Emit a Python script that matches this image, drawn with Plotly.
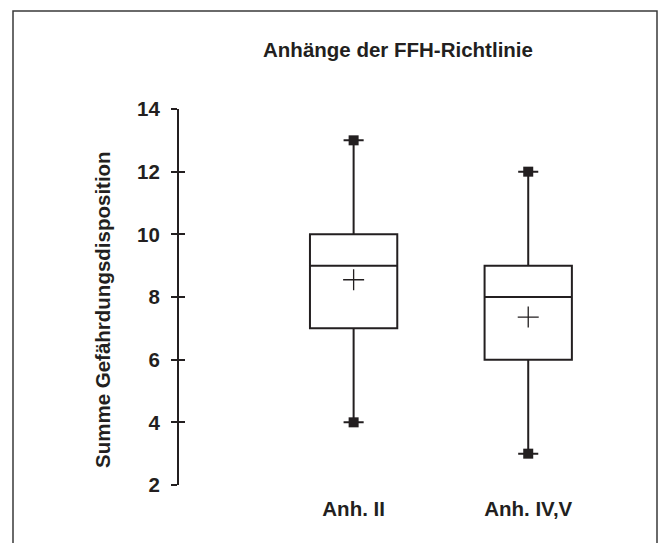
import plotly.graph_objects as go

categories = ["Anh. II", "Anh. IV,V"]
q1 = [7, 6]
median = [9, 8]
q3 = [10, 9]
lower = [4, 3]
upper = [13, 12]
means = [8.55, 7.36]
y_ticks = [2, 4, 6, 8, 10, 12, 14]

title_text = "Anhänge der FFH-Richtlinie"
y_title = "Summe Gefährdungsdisposition"

ink = "#231f20"
font_family = "Liberation Sans, Arial, sans-serif"
fs = 20.5

fig = go.Figure()

for i, c in enumerate(categories):
    fig.add_trace(go.Box(
        x=[c], q1=[q1[i]], median=[median[i]], q3=[q3[i]],
        lowerfence=[lower[i]], upperfence=[upper[i]],
        fillcolor="white", line=dict(color=ink, width=2),
        whiskerwidth=0.23, width=0.5, boxpoints=False,
        showlegend=False, hoverinfo="skip",
    ))

# whisker end squares
fig.add_trace(go.Scatter(
    x=categories + categories, y=lower + upper, mode="markers",
    marker=dict(symbol="square", size=10, color=ink),
    showlegend=False, hoverinfo="skip",
))

# means
fig.add_trace(go.Scatter(
    x=categories, y=means, mode="markers", yaxis="y2",
    marker=dict(symbol="cross-thin", size=15, line=dict(color=ink, width=1.3)),
    showlegend=False, hoverinfo="skip",
))

L, R, T, B = 179, 26, 109, 58
W, H = 659, 543
pw = W - L - R
ph = H - T - B

def px_x(p):
    return (p - L) / pw

def px_y(p):
    return (H - B - p) / ph

fig.update_layout(
    width=W, height=H,
    margin=dict(l=L, r=R, t=T, b=B, pad=0),
    paper_bgcolor="white", plot_bgcolor="white",
    font=dict(family=font_family, color=ink),
    title=dict(text=title_text, x=px_x(398), xref="paper", xanchor="center",
               y=1 - 50 / H, yref="container", yanchor="middle",
               font=dict(size=fs, weight="bold", color=ink, family=font_family)),
    xaxis=dict(type="category", categoryorder="array", categoryarray=categories,
               range=[-1, 1.6], showline=False, showgrid=False, zeroline=False,
               ticks="", tickfont=dict(size=fs, weight="bold", color=ink),
               ticklabelstandoff=9),
    yaxis=dict(range=[2, 14], tickvals=y_ticks, showline=True, linewidth=2,
               linecolor=ink, ticks="outside", ticklen=6, tickwidth=2,
               tickcolor=ink, showgrid=False, zeroline=False,
               tickfont=dict(size=fs, weight="bold", color=ink),
               ticklabelstandoff=7),
    yaxis2=dict(range=[2, 14], tickvals=y_ticks, overlaying="y", side="left",
                showline=False, ticks="inside", ticklen=6, tickwidth=2,
                tickcolor=ink, showticklabels=False, showgrid=False,
                zeroline=False),
    shapes=[dict(type="rect", xref="paper", yref="paper",
                 x0=px_x(13), x1=px_x(657), y0=px_y(600), y1=px_y(11),
                 line=dict(color="#3a3a3a", width=1.5), layer="below")],
    annotations=[dict(text=y_title, textangle=-90, xref="paper", yref="paper",
                      x=px_x(102), y=px_y(310), xanchor="center", yanchor="middle",
                      showarrow=False,
                      font=dict(size=fs, weight="bold", color=ink, family=font_family))],
)

fig.write_html("out.html")
